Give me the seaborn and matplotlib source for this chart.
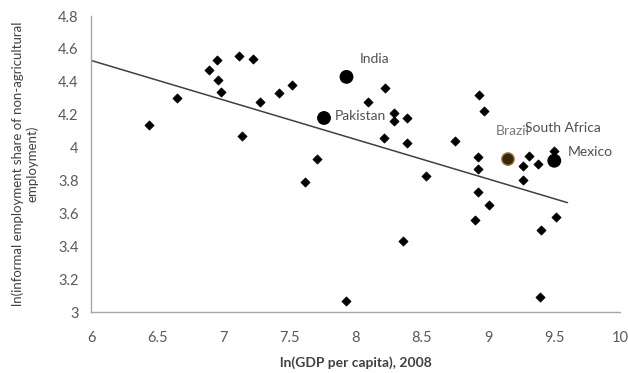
import matplotlib
matplotlib.use("Agg")
import matplotlib.pyplot as plt
import seaborn as sns
import pandas as pd

# ---- data ----
gdp = [6.44, 6.65, 6.89, 6.95, 6.96, 6.98, 7.12, 7.14, 7.22, 7.28,
       7.42, 7.52, 7.62, 7.71, 7.93, 8.09, 8.22, 8.21, 8.29, 8.29,
       8.39, 8.39, 8.36, 8.53, 8.75, 8.93, 8.97, 8.92, 8.92, 8.92,
       9.01, 8.90, 9.26, 9.26, 9.31, 9.38, 9.50, 9.51, 9.40, 9.39]
informal = [4.14, 4.30, 4.47, 4.53, 4.41, 4.34, 4.56, 4.07, 4.54, 4.28,
            4.33, 4.38, 3.79, 3.93, 3.07, 4.28, 4.36, 4.06, 4.21, 4.16,
            4.18, 4.03, 3.43, 3.83, 4.04, 4.32, 4.22, 3.94, 3.87, 3.73,
            3.65, 3.56, 3.80, 3.89, 3.95, 3.90, 3.98, 3.58, 3.50, 3.09]

countries = ["India", "Pakistan", "Brazil", "Mexico"]
country_gdp = [7.93, 7.76, 9.15, 9.50]
country_informal = [4.43, 4.18, 3.93, 3.92]

labels = ["India", "Pakistan", "Brazil", "South Africa", "Mexico"]
label_x = [8.03, 7.84, 9.06, 9.28, 9.60]
label_y = [4.54, 4.19, 4.10, 4.12, 3.975]

trend_x = [6.0, 9.6]
trend_y = [4.53, 3.665]

x_ticks = [6, 6.5, 7, 7.5, 8, 8.5, 9, 9.5, 10]
x_ticklabels = ["6", "6.5", "7", "7.5", "8", "8.5", "9", "9.5", "10"]
y_ticks = [3, 3.2, 3.4, 3.6, 3.8, 4, 4.2, 4.4, 4.6, 4.8]
y_ticklabels = ["3", "3.2", "3.4", "3.6", "3.8", "4", "4.2", "4.4", "4.6", "4.8"]

# ---- plotting ----
sns.set_theme(style="white")
plt.rcParams["font.family"] = ["Lato", "DejaVu Sans"]

fig = plt.figure(figsize=(6.28, 3.73), dpi=100)
ax = fig.add_axes([0.145, 0.1635, 0.843, 0.7935])

df = pd.DataFrame({"gdp": gdp, "informal": informal})
sns.scatterplot(data=df, x="gdp", y="informal", marker="D", s=22,
                color="black", edgecolor="black", linewidth=0.5, ax=ax, zorder=3)

dfc = pd.DataFrame({"gdp": country_gdp, "informal": country_informal, "country": countries})
pal = {"India": "black", "Pakistan": "black", "Brazil": "#3a2608", "Mexico": "black"}
edges = ["black", "black", "#a07a45", "black"]
sns.scatterplot(data=dfc, x="gdp", y="informal", hue="country", palette=pal,
                marker="o", s=80, legend=False, ax=ax, zorder=4,
                edgecolor=edges, linewidth=1.0)

dft = pd.DataFrame({"x": trend_x, "y": trend_y})
sns.lineplot(data=dft, x="x", y="y", color="#404040", linewidth=1.1, ax=ax, zorder=2)

label_colors = ["#505050", "#505050", "#7a7a7a", "#505050", "#505050"]
for t, lx, ly, c in zip(labels, label_x, label_y, label_colors):
    ax.text(lx, ly, t, fontsize=10, color=c, va="center", ha="left", zorder=5)

ax.set_xlim(6, 10)
ax.set_ylim(3, 4.8)
ax.set_xticks(x_ticks)
ax.set_xticklabels(x_ticklabels)
ax.set_yticks(y_ticks)
ax.set_yticklabels(y_ticklabels)

for side in ["top", "right"]:
    ax.spines[side].set_visible(False)
for side in ["left", "bottom"]:
    ax.spines[side].set_color("#a6a6a6")
    ax.spines[side].set_linewidth(1.0)

ax.tick_params(axis="both", which="major", direction="out", length=4, width=1,
               color="#a6a6a6", labelsize=10.5, labelcolor="#595959", pad=10)
ax.tick_params(axis="y", pad=5)

ax.set_xlabel("ln(GDP per capita), 2008", fontsize=10, fontweight="bold",
              color="#404040", labelpad=8)
ax.set_ylabel("ln(informal employment share of non-agricultural\nemployment)",
              fontsize=9.5, color="#404040", labelpad=14, linespacing=1.2)

fig.savefig("out.png", dpi=100)
